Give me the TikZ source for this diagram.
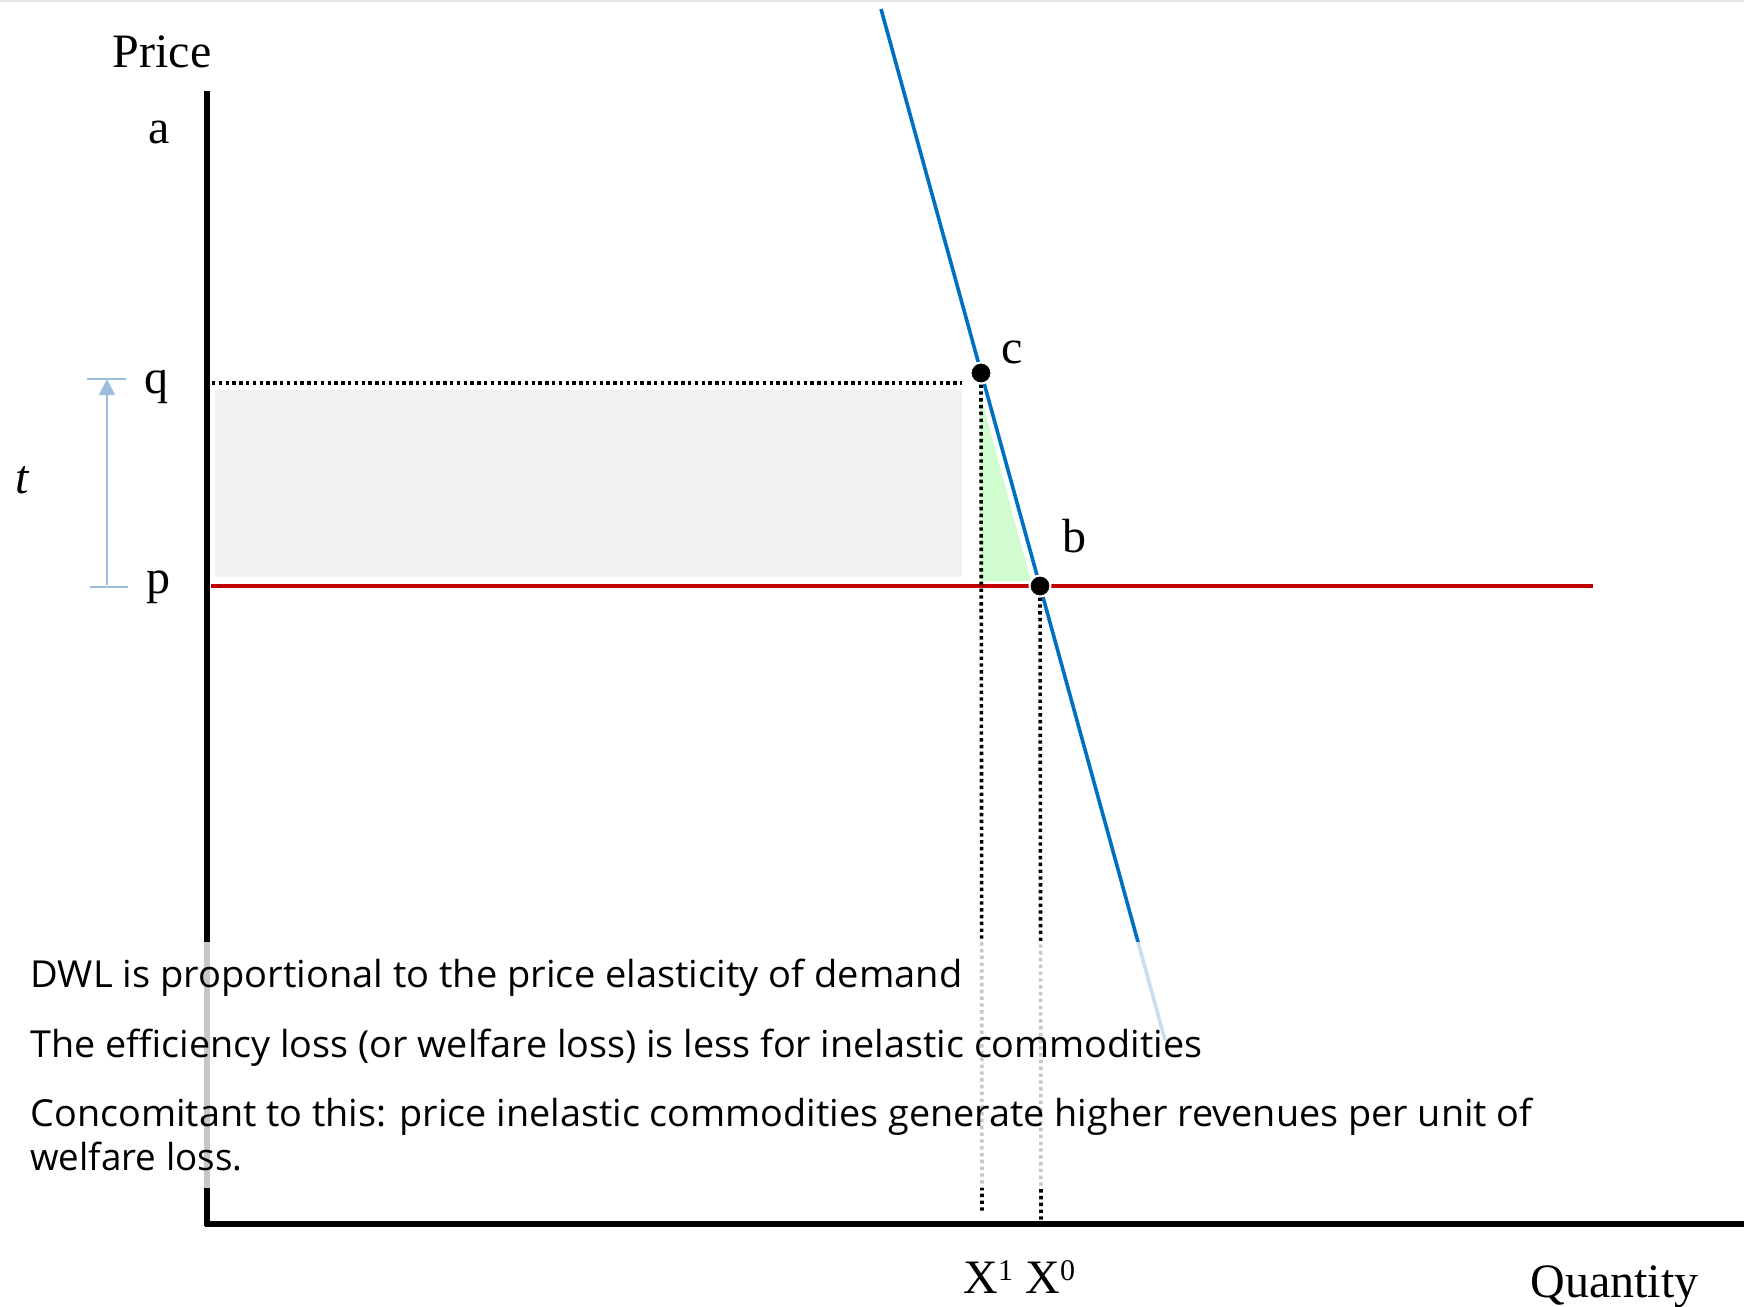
\documentclass[tikz,border=0pt]{standalone}
\usepackage{fontspec}
\usepackage{graphicx}
\setmainfont{Liberation Serif}
\newfontfamily\bodyfont{Open Sans}
\usetikzlibrary{arrows.meta}
\definecolor{demandblue}{RGB}{0,112,192}
\definecolor{supplyred}{RGB}{192,0,0}
\definecolor{taxblue}{RGB}{157,190,222}
\definecolor{revgray}{RGB}{242,242,242}
\definecolor{dwlgreen}{RGB}{208,252,208}
\tikzset{
  lbl/.style={inner sep=0pt, font=\fontsize{24}{28}\selectfont},
  body/.style={inner sep=0pt, anchor=base west, font=\bodyfont\fontsize{18.6}{22}\selectfont},
  axisline/.style={line width=3.3pt, black},
  dotline/.style={line width=1.8pt, black, dash pattern=on 1.7pt off 1.7pt},
  dotmark/.style={circle, fill=black, draw=white, line width=1pt, minimum size=10.5pt, inner sep=0pt},
  demand/.style={line width=1.8pt, demandblue, preaction={draw=white, line width=4pt}},
  taxline/.style={taxblue, line width=0.8pt},
}
\newcommand{\supnum}[1]{\raisebox{6.5pt}{\fontsize{15}{15}\selectfont #1}}
\begin{document}
\begin{tikzpicture}[x=0.5pt, y=-0.5pt]
\useasboundingbox (0,0) rectangle (1744,1306);
\draw[gray!20, line width=0.8pt] (0,1) -- (1744,1);
% coordinates
\coordinate (ytop) at (207,91);
\coordinate (ybot) at (207,1226);
\coordinate (xl) at (205,1224);
\coordinate (xr) at (1744,1224);
\coordinate (qL) at (212,383);
\coordinate (qR) at (962,383);
\coordinate (pL) at (211,586);
\coordinate (pR) at (1593,586);
\coordinate (dtop) at (881,9);
\coordinate (dbot) at (1165,1040);
\coordinate (x1b) at (982,1213);
\coordinate (x0b) at (1041,1220);
% revenue rectangle and DWL triangle
\fill[revgray] (215,390) rectangle (962,577);
\fill[dwlgreen] (980,393) -- (980,581) -- (1031,581) -- cycle;
% price line p
\draw[supplyred, line width=2pt] (pL) -- (pR);
% dotted guides
\draw[dotline] (qL) -- (qR);
% demand
\draw[demand] (dtop) -- (dbot);
\node[dotmark] (c) at (981,373) {};
\node[dotmark] (b) at (1040,586) {};
\draw[dotline] (c.south) -- (x1b);
\draw[dotline] (b.south) -- (x0b);
% axes
\draw[axisline] (ytop) -- (ybot);
% tax arrow
\coordinate (tq1) at (87,379);
\coordinate (tq2) at (126,379);
\coordinate (tp1) at (90,587);
\coordinate (tp2) at (128,587);
\coordinate (ta) at (107,585);
\coordinate (tb) at (107,379);
\draw[taxline, line width=0.6pt] (tq1) -- (tq2);
\draw[taxline, line width=0.6pt] (tp1) -- (tp2);
\draw[taxline, -{Triangle[width=8pt, length=8pt]}] (ta) -- (tb);
% text overlay
\fill[white, fill opacity=0.78] (15,942) rectangle (1560,1188);
\draw[axisline] (xl) -- (xr);
% labels
\node[lbl, anchor=base] (price) at (162,67) {Price};
\node[lbl, anchor=base] (la) at (159,143) {a};
\node[lbl, anchor=base] (lq) at (156,393) {q};
\node[lbl, anchor=base] (lp) at (158,593) {p};
\node[lbl, anchor=base] (lt) at (22,493) {\itshape t};
\node[lbl, anchor=base] (lc) at (1012,363) {c};
\node[lbl, anchor=base] (lb) at (1074,552) {b};
\node[lbl, anchor=base west] (X1) at (963,1293) {X\supnum{1}};
\node[lbl, anchor=base west] (X0) at (1025,1293) {X\supnum{0}};
\node[lbl, anchor=base west] (qty) at (1530,1297) {Quantity};
% body text
\node[body] (t1) at (30,987) {\resizebox{466pt}{\height}{DWL is proportional to the price elasticity of demand}};
\node[body] (t2) at (30,1057) {\resizebox{586pt}{\height}{The efficiency loss (or welfare loss) is less for inelastic commodities}};
\node[body] (t3) at (30,1126) {\resizebox{751pt}{\height}{Concomitant to this: price inelastic commodities generate higher revenues per unit of}};
\node[body] (t4) at (30,1170) {\resizebox{106pt}{\height}{welfare loss.}};
\end{tikzpicture}
\end{document}
